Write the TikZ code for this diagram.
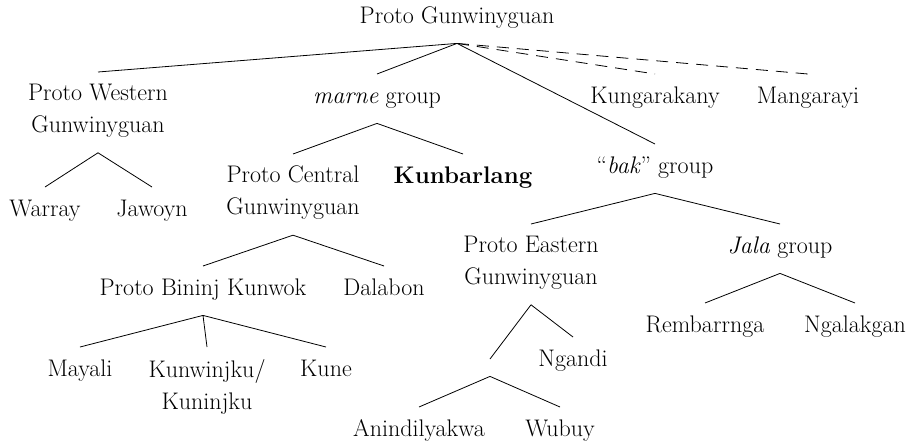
\documentclass[tikz,border=0pt]{standalone}
\usepackage{tikz}
\newcommand\ls{\vrule width 0pt height 17pt depth 8pt}
\tikzset{
    lang/.style={
        anchor=north,align=center,
        inner xsep=0pt,inner ysep=12pt,
        font=\fontsize{24}{32}\selectfont,
        execute at begin node=\ls
    },
    branch/.style={line width=0.8pt},
    loose/.style={branch,dash pattern=on 12pt off 8pt}
}
\begin{document}
\begin{tikzpicture}[x=1pt,y=-1pt]
\useasboundingbox (0,0) rectangle (918,442);
% top levels
\node[lang] (pg) at (457,-6) {Proto Gunwinyguan};
\node[lang] (pwg) at (98,72) {Proto Western\\Gunwinyguan\ls};
\node[lang] (marne) at (377,74) {\textit{marne} group};
\node[lang] (kung) at (655,74) {Kungarakany};
\node[lang] (manga) at (808,74) {Mangarayi};
\node[lang] (bak) at (655,144) {``\textit{bak}'' group};
\node[lang] (pcg) at (293,154) {Proto Central\\Gunwinyguan\ls};
\node[lang] (kunb) at (463,154) {\textbf{Kunbarlang}};
\node[lang] (peg) at (531,224) {Proto Eastern\\Gunwinyguan\ls};
\node[lang] (jala) at (780,224) {\textit{Jala} group};
\node[lang] (pbk) at (203,266) {Proto Bininj Kunwok};
\node[inner sep=0pt,minimum width=0pt,minimum height=17pt,anchor=north] (sub) at (490,359) {};
% leaves
\foreach \name/\x/\y/\txt in {warray/45/187/Warray,jawoyn/152/187/Jawoyn,
    dalabon/384/266/Dalabon,mayali/80/347/Mayali,kunw/207/347/{Kunwinjku/\\Kuninjku\ls},
    kune/326/347/Kune,ngandi/573/337/Ngandi,anin/419/407/Anindilyakwa,
    wubuy/560/407/Wubuy,remb/705/303/Rembarrnga,ngal/855/303/Ngalakgan}
    \node[lang] (\name) at (\x,\y) {\txt};
% branches
\foreach \a/\b in {pg/pwg,pg/marne,pg/bak,pwg/warray,pwg/jawoyn,marne/pcg,marne/kunb,
    bak/peg,bak/jala,pcg/pbk,pcg/dalabon,pbk/mayali,pbk/kunw,pbk/kune,
    peg/sub,peg/ngandi,sub/anin,sub/wubuy,jala/remb,jala/ngal}
    \draw[branch] (\a.south) -- (\b.north);
\foreach \b in {kung,manga}
    \draw[loose] (pg.south) -- (\b.north);
\end{tikzpicture}
\end{document}
